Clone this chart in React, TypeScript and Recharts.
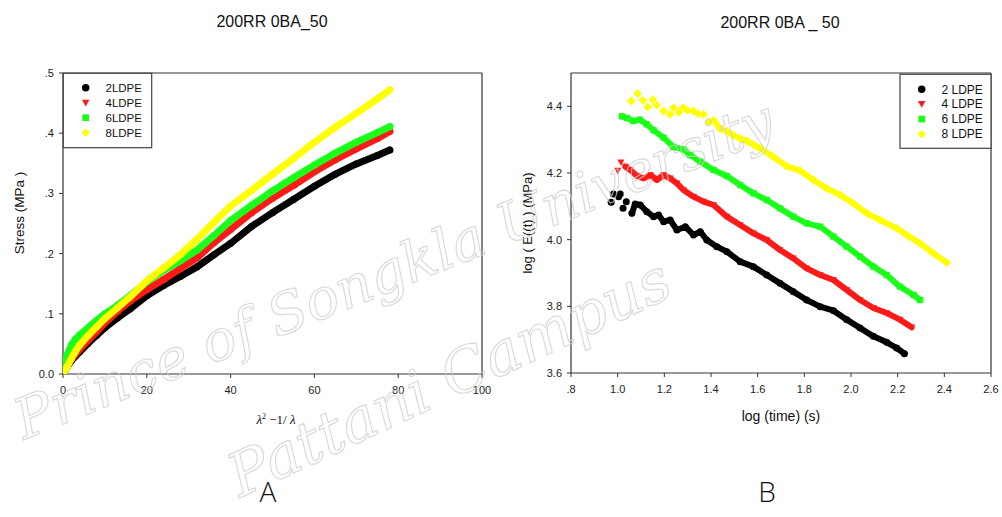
import React from 'react';
import { ScatterChart, Scatter, XAxis, YAxis, ReferenceLine } from 'recharts';

// ---------- Chart A data: stress vs (lambda^2 - 1/lambda) ----------
const strainX = [0, 1, 2, 3, 4, 6, 8, 10, 13, 16, 20, 24, 28, 32, 36, 40, 45, 50, 55, 60, 65, 70, 75, 78];
const stress2LDPE = [0.0, 0.012, 0.022, 0.03, 0.037, 0.051, 0.064, 0.077, 0.093, 0.108, 0.13, 0.147, 0.162, 0.178, 0.198, 0.217, 0.245, 0.268, 0.29, 0.312, 0.332, 0.349, 0.363, 0.372];
const stress4LDPE = [0.0, 0.013, 0.024, 0.033, 0.041, 0.056, 0.07, 0.085, 0.104, 0.121, 0.14, 0.157, 0.175, 0.193, 0.218, 0.24, 0.268, 0.292, 0.313, 0.336, 0.356, 0.374, 0.391, 0.403];
const stress6LDPE = [0.012, 0.032, 0.048, 0.058, 0.065, 0.077, 0.089, 0.1, 0.114, 0.13, 0.153, 0.172, 0.188, 0.206, 0.23, 0.255, 0.28, 0.304, 0.326, 0.347, 0.367, 0.385, 0.401, 0.411];
const stress8LDPE = [0.0, 0.012, 0.026, 0.038, 0.048, 0.064, 0.078, 0.092, 0.11, 0.128, 0.155, 0.176, 0.198, 0.224, 0.252, 0.279, 0.305, 0.332, 0.358, 0.385, 0.41, 0.433, 0.457, 0.472];
const seriesNamesA = ['2LDPE', '4LDPE', '6LDPE', '8LDPE'];
const xTicksA = [0, 20, 40, 60, 80, 100];
const yTicksA = [0, 0.1, 0.2, 0.3, 0.4, 0.5];

// ---------- Chart B data: log E(t) vs log time ----------
const time2LDPE = [0.972, 0.982, 1.004, 1.011, 1.023, 1.037, 1.061, 1.075, 1.097, 1.125, 1.154, 1.175, 1.197, 1.225, 1.254, 1.29, 1.325, 1.354, 1.382, 1.425, 1.468, 1.525, 1.582, 1.639, 1.696, 1.753, 1.81, 1.868, 1.925, 1.982, 2.039, 2.096, 2.153, 2.196, 2.229];
const logE2LDPE = [4.112, 4.137, 4.129, 4.137, 4.094, 4.114, 4.079, 4.107, 4.104, 4.084, 4.069, 4.074, 4.054, 4.059, 4.029, 4.039, 4.014, 4.024, 3.999, 3.979, 3.964, 3.934, 3.919, 3.894, 3.869, 3.844, 3.819, 3.799, 3.787, 3.76, 3.735, 3.71, 3.692, 3.675, 3.658];
const time4LDPE = [1.0, 1.014, 1.033, 1.054, 1.083, 1.111, 1.14, 1.168, 1.197, 1.225, 1.254, 1.282, 1.325, 1.368, 1.411, 1.468, 1.525, 1.582, 1.639, 1.696, 1.753, 1.81, 1.868, 1.925, 1.982, 2.039, 2.096, 2.153, 2.21, 2.26];
const logE4LDPE = [4.207, 4.232, 4.219, 4.209, 4.191, 4.184, 4.194, 4.179, 4.194, 4.184, 4.169, 4.149, 4.129, 4.114, 4.104, 4.069, 4.044, 4.019, 3.999, 3.969, 3.944, 3.914, 3.894, 3.879, 3.849, 3.819, 3.795, 3.78, 3.76, 3.737];
const time6LDPE = [1.018, 1.04, 1.068, 1.095, 1.125, 1.154, 1.197, 1.239, 1.282, 1.311, 1.354, 1.411, 1.468, 1.525, 1.582, 1.639, 1.696, 1.753, 1.81, 1.868, 1.925, 1.982, 2.039, 2.096, 2.153, 2.21, 2.268, 2.296];
const logE6LDPE = [4.37, 4.365, 4.356, 4.36, 4.346, 4.328, 4.306, 4.278, 4.271, 4.254, 4.234, 4.209, 4.191, 4.164, 4.139, 4.119, 4.094, 4.069, 4.049, 4.039, 4.009, 3.979, 3.949, 3.919, 3.894, 3.859, 3.834, 3.819];
const time8LDPE = [1.058, 1.085, 1.108, 1.128, 1.151, 1.168, 1.197, 1.225, 1.239, 1.262, 1.28, 1.3, 1.325, 1.345, 1.368, 1.39, 1.411, 1.439, 1.468, 1.496, 1.525, 1.554, 1.582, 1.611, 1.668, 1.725, 1.782, 1.839, 1.896, 1.953, 2.01, 2.068, 2.125, 2.196, 2.239, 2.296, 2.353, 2.41];
const logE8LDPE = [4.416, 4.438, 4.418, 4.398, 4.42, 4.403, 4.386, 4.376, 4.396, 4.382, 4.396, 4.388, 4.386, 4.378, 4.376, 4.353, 4.358, 4.333, 4.325, 4.313, 4.303, 4.296, 4.285, 4.274, 4.248, 4.22, 4.207, 4.179, 4.154, 4.134, 4.109, 4.079, 4.059, 4.034, 4.014, 3.989, 3.959, 3.931];
const bandStartB = [1.06, 1.03, 1.0, 1.38];
const seriesNamesB = ['2 LDPE', '4 LDPE', '6 LDPE', '8 LDPE'];
const xTicksB = [0.8, 1.0, 1.2, 1.4, 1.6, 1.8, 2.0, 2.2, 2.4, 2.6];
const yTicksB = [3.6, 3.8, 4.0, 4.2, 4.4];

const COLORS = ['#000000', '#ff1a1a', '#1aff1a', '#ffff00'];
const KINDS = ['circle', 'tri', 'square', 'diamond'];
const FONT = '"Liberation Sans", Arial, sans-serif';
const AXIS = '#333333';

type Pt = { x: number; y: number };
const zip = (xs: number[], ys: number[]): Pt[] => xs.map((x, i) => ({ x, y: ys[i] }));

const dataA: Pt[][] = [stress2LDPE, stress4LDPE, stress6LDPE, stress8LDPE].map((ys) => zip(strainX, ys));
const dataB: Pt[][] = [
  zip(time2LDPE, logE2LDPE),
  zip(time4LDPE, logE4LDPE),
  zip(time6LDPE, logE6LDPE),
  zip(time8LDPE, logE8LDPE),
];

function marker(kind: string, color: string, cx: number, cy: number, s: number, key?: any) {
  const h = s / 2;
  if (kind === 'circle') return <circle key={key} cx={cx} cy={cy} r={h} fill={color} />;
  if (kind === 'tri')
    return <polygon key={key} points={`${cx - h},${cy - h * 0.8} ${cx + h},${cy - h * 0.8} ${cx},${cy + h}`} fill={color} />;
  if (kind === 'square') return <rect key={key} x={cx - h * 0.9} y={cy - h * 0.9} width={h * 1.8} height={h * 1.8} fill={color} />;
  return <polygon key={key} points={`${cx},${cy - h * 1.1} ${cx + h * 1.1},${cy} ${cx},${cy + h * 1.1} ${cx - h * 1.1},${cy}`} fill={color} />;
}

const shapeFor = (kind: string, color: string, s: number) => (props: any) => {
  const { cx, cy } = props;
  if (cx == null || cy == null) return <g />;
  return marker(kind, color, cx, cy, s);
};
const noShape = () => <g />;

const tickStyle = { fill: '#222', fontSize: 11, fontFamily: FONT };
const fmtA = (v: number) => (v === 0 ? '0.0' : '.' + Math.round(v * 10));
const fmtBx = (v: number) => (Math.abs(v - 0.8) < 1e-6 ? '.8' : v.toFixed(1));
const fmtBy = (v: number) => v.toFixed(1);

function Legend({ x, y, w, h, names, rowY, markX, textX, fs }: any) {
  return (
    <g>
      <rect x={x} y={y} width={w} height={h} fill="#fff" stroke="#444" strokeWidth={1.2} />
      {names.map((n: string, i: number) => (
        <g key={n}>
          {marker(KINDS[i], COLORS[i], markX, rowY[i], 7.5)}
          <text x={textX} y={rowY[i]} dy="0.36em" fontSize={fs} fontFamily={FONT} fill="#111">
            {n}
          </text>
        </g>
      ))}
    </g>
  );
}

export default function App() {
  return (
    <div style={{ position: 'absolute', left: 0, top: 0, width: 1002, height: 517, background: '#fff', overflow: 'hidden' }}>
      {/* Chart A */}
      <div style={{ position: 'absolute', left: 0, top: 0 }}>
        <ScatterChart width={500} height={517} margin={{ top: 73, right: 18, bottom: 113, left: 19 }}>
          <XAxis
            type="number"
            dataKey="x"
            domain={[0, 100]}
            ticks={xTicksA}
            tickSize={4}
            tickMargin={8}
            height={30}
            axisLine={{ stroke: AXIS, strokeWidth: 1.2 }}
            tickLine={{ stroke: AXIS }}
            tick={tickStyle}
            allowDataOverflow
          />
          <YAxis
            type="number"
            dataKey="y"
            domain={[0, 0.5]}
            ticks={yTicksA}
            tickFormatter={fmtA}
            tickSize={4}
            tickMargin={5}
            width={44}
            axisLine={{ stroke: AXIS, strokeWidth: 1.2 }}
            tickLine={{ stroke: AXIS }}
            tick={tickStyle}
            allowDataOverflow
          />
          <ReferenceLine y={0.5} stroke={AXIS} strokeWidth={1.2} />
          <ReferenceLine x={100} stroke={AXIS} strokeWidth={1.2} />
          {dataA.map((d, i) => (
            <Scatter
              key={seriesNamesA[i]}
              name={seriesNamesA[i]}
              data={d}
              line={{ stroke: COLORS[i], strokeWidth: 7, strokeLinejoin: 'round', strokeLinecap: 'round' }}
              lineJointType="linear"
              shape={shapeFor('circle', COLORS[i], 7)}
              isAnimationActive={false}
            />
          ))}
        </ScatterChart>
      </div>

      {/* Chart B */}
      <div style={{ position: 'absolute', left: 500, top: 0 }}>
        <ScatterChart width={502} height={517} margin={{ top: 73, right: 11, bottom: 114, left: 27 }}>
          <XAxis
            type="number"
            dataKey="x"
            domain={[0.8, 2.6]}
            ticks={xTicksB}
            tickFormatter={fmtBx}
            tickSize={4}
            tickMargin={8}
            height={30}
            axisLine={{ stroke: AXIS, strokeWidth: 1.2 }}
            tickLine={{ stroke: AXIS }}
            tick={tickStyle}
            allowDataOverflow
          />
          <YAxis
            type="number"
            dataKey="y"
            domain={[3.6, 4.5]}
            ticks={yTicksB}
            tickFormatter={fmtBy}
            tickSize={4}
            tickMargin={5}
            width={44}
            axisLine={{ stroke: AXIS, strokeWidth: 1.2 }}
            tickLine={{ stroke: AXIS }}
            tick={tickStyle}
            allowDataOverflow
          />
          <ReferenceLine y={4.5} stroke={AXIS} strokeWidth={1.2} />
          <ReferenceLine x={2.6} stroke={AXIS} strokeWidth={1.2} />
          {dataB.map((d, i) => [
            <Scatter
              key={'band' + i}
              data={d.filter((p) => p.x >= bandStartB[i])}
              line={{ stroke: COLORS[i], strokeWidth: 6, strokeLinejoin: 'round', strokeLinecap: 'round' }}
              lineJointType="linear"
              shape={noShape}
              legendType="none"
              isAnimationActive={false}
            />,
            <Scatter
              key={'pts' + i}
              name={seriesNamesB[i]}
              data={d}
              shape={shapeFor(KINDS[i], COLORS[i], i === 3 ? 8 : 7)}
              isAnimationActive={false}
            />,
          ])}
        </ScatterChart>
      </div>

      {/* Texts, legends and watermark */}
      <svg width={1002} height={517} style={{ position: 'absolute', left: 0, top: 0, pointerEvents: 'none' }}>
        <text x={272} y={21} dy="0.36em" textAnchor="middle" fontSize={16} fontFamily={FONT} fill="#111">
          200RR 0BA_50
        </text>
        <text x={780} y={22.5} dy="0.36em" textAnchor="middle" fontSize={16} fontFamily={FONT} fill="#111">
          200RR 0BA _ 50
        </text>

        <text transform="translate(19,213) rotate(-90)" dy="0.36em" textAnchor="middle" fontSize={13.5} fontFamily={FONT} fill="#111">
          Stress (MPa )
        </text>
        <text transform="translate(527,223) rotate(-90)" dy="0.36em" textAnchor="middle" fontSize={13} fontFamily={FONT} fill="#111">
          log ( E((t) ) (MPa)
        </text>

        <text x={276} y={419} dy="0.36em" textAnchor="middle" fontSize={13} fontFamily='"Liberation Serif", "Times New Roman", serif' fill="#111">
          <tspan fontStyle="italic">λ</tspan>
          <tspan fontSize={8} dy="-5">2</tspan>
          <tspan dy="5"> −1/ </tspan>
          <tspan fontStyle="italic">λ</tspan>
        </text>
        <text x={781} y={415.5} dy="0.36em" textAnchor="middle" fontSize={14} fontFamily={FONT} fill="#111">
          log (time) (s)
        </text>

        <Legend x={63.3} y={73.3} w={88.4} h={74.4} names={seriesNamesA} rowY={[87.7, 102.7, 117.7, 132.7]} markX={85.7} textX={105.5} fs={11.5} />
        <Legend x={900} y={74.3} w={91} h={74} names={seriesNamesB} rowY={[89.3, 104, 119, 134]} markX={921.7} textX={941.5} fs={12} />

        <text x={268} y={492} dy="0.36em" textAnchor="middle" fontSize={28} fontWeight={300} fontFamily='"Open Sans", "Noto Sans", sans-serif' fill="#111">
          A
        </text>
        <text x={767} y={492} dy="0.36em" textAnchor="middle" fontSize={28} fontWeight={300} fontFamily='"Open Sans", "Noto Sans", sans-serif' fill="#111">
          B
        </text>

        <g fill="none" stroke="#cfcfcf" strokeWidth={1.1} opacity={0.8} fontStyle="italic" fontFamily='"DejaVu Serif", serif'>
          <text transform="translate(24,440) rotate(-22)" fontSize={56}>
            Prince of Songkla University
          </text>
          <text transform="translate(240,498) rotate(-25)" fontSize={60}>
            Pattani Campus
          </text>
        </g>
      </svg>
    </div>
  );
}
